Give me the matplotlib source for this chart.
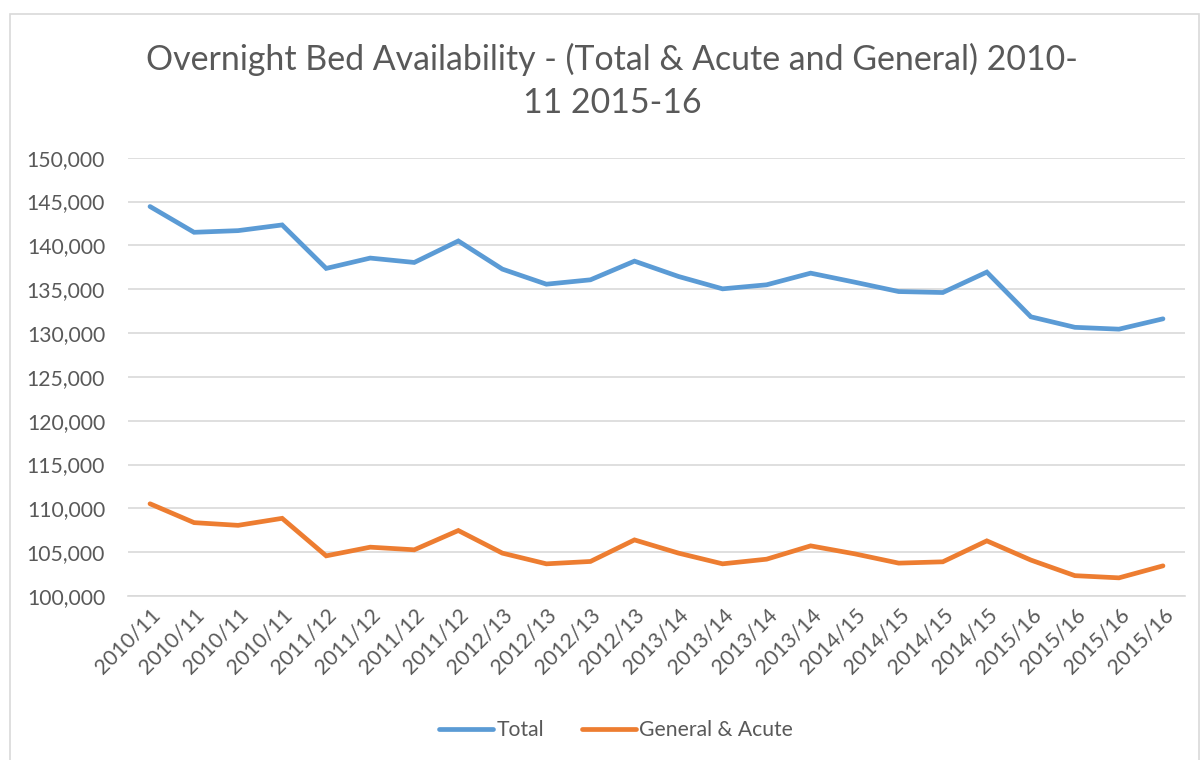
import matplotlib
matplotlib.use("Agg")
import matplotlib.pyplot as plt
from matplotlib.patches import Rectangle
from matplotlib.ticker import FuncFormatter, MultipleLocator

plt.rcParams['font.family'] = ['Lato', 'DejaVu Sans']

categories = (["2010/11"] * 4 + ["2011/12"] * 4 + ["2012/13"] * 4 +
              ["2013/14"] * 4 + ["2014/15"] * 4 + ["2015/16"] * 4)

total = [144430, 141490, 141680, 142330, 137370, 138550, 138050, 140500,
         137290, 135570, 136070, 138200, 136450, 135040, 135500, 136830,
         135800, 134730, 134620, 136950, 131850, 130650, 130440, 131620]

general_acute = [110520, 108370, 108060, 108860, 104580, 105570, 105270, 107470,
                 104890, 103670, 103940, 106400, 104890, 103670, 104200, 105720,
                 104810, 103750, 103900, 106290, 104100, 102320, 102070, 103440]

title = "Overnight Bed Availability - (Total & Acute and General) 2010-\n11 2015-16"

W, H = 1202, 760
fig = plt.figure(figsize=(W / 100, H / 100), dpi=100)
fig.patch.set_facecolor("white")

# outer chart frame
fig.patches.append(Rectangle((10 / W, -0.05), (1199 - 10) / W, 1.05 - 14 / H,
                             transform=fig.transFigure, fill=False,
                             edgecolor="#D9D9D9", linewidth=1.2))

left, right = 128 / W, 1185 / W
top, bottom = 1 - 157.7 / H, 1 - 596 / H
ax = fig.add_axes([left, bottom, right - left, top - bottom])

x = list(range(len(categories)))
blue = "#5B9BD5"
orange = "#ED7D31"
ax.plot(x, total, color=blue, linewidth=3.4, solid_capstyle="round",
        solid_joinstyle="miter", label="Total", zorder=3)
ax.plot(x, general_acute, color=orange, linewidth=3.4, solid_capstyle="round",
        solid_joinstyle="miter", label="General & Acute", zorder=3)

ax.set_xlim(-0.5, len(categories) - 0.5)
ax.set_ylim(100000, 150000)
ax.yaxis.set_major_locator(MultipleLocator(5000))
ax.yaxis.set_major_formatter(FuncFormatter(lambda v, p: f"{int(v):,}"))
ax.grid(axis="y", color="#D9D9D9", linewidth=1.2, zorder=0)
ax.set_axisbelow(True)
for s in ["top", "right", "left"]:
    ax.spines[s].set_visible(False)
ax.spines["bottom"].set_color("#D9D9D9")
ax.spines["bottom"].set_linewidth(1.2)

ax.set_xticks(x)
ax.set_xticklabels(categories, rotation=45, ha="right", va="top",
                   rotation_mode="anchor")
ax.tick_params(axis="both", length=0, colors="#595959", labelsize=15.2)
ax.tick_params(axis="y", pad=16.5)
ax.tick_params(axis="x", pad=6)

fig.text(612 / W, 1 - 81 / H, title, ha="center", va="center",
         fontsize=24.4, color="#595959", linespacing=1.4)

leg = fig.legend(loc="center", bbox_to_anchor=(616 / W, 1 - 730 / H), ncol=2,
                 frameon=False, fontsize=15.2, handlelength=2.55,
                 handletextpad=0.15, columnspacing=1.8)
for t in leg.get_texts():
    t.set_color("#595959")

fig.savefig("out.png", dpi=100)
